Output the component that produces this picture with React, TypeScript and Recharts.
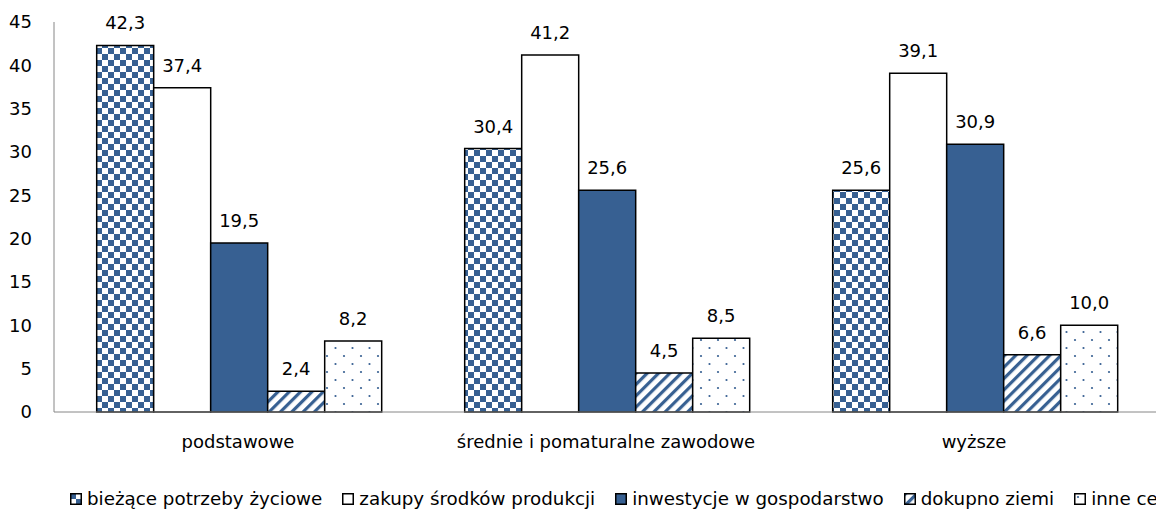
import { BarChart, Bar, XAxis, YAxis, LabelList } from 'recharts';

const categories = ['podstawowe', 'średnie i pomaturalne zawodowe', 'wyższe'];
const seriesNames = [
  'bieżące potrzeby życiowe',
  'zakupy środków produkcji',
  'inwestycje w gospodarstwo',
  'dokupno ziemi',
  'inne cele',
];
const biezace = [42.3, 30.4, 25.6];
const zakupy = [37.4, 41.2, 39.1];
const inwestycje = [19.5, 25.6, 30.9];
const dokupno = [2.4, 4.5, 6.6];
const inne = [8.2, 8.5, 10.0];
const yTicks = [0, 5, 10, 15, 20, 25, 30, 35, 40, 45];

const keys = ['s0', 's1', 's2', 's3', 's4'];
const fills = ['url(#checker)', '#ffffff', '#376092', 'url(#hatch)', 'url(#dots)'];

const data = categories.map((name, i) => ({
  name,
  s0: biezace[i],
  s1: zakupy[i],
  s2: inwestycje[i],
  s3: dokupno[i],
  s4: inne[i],
}));

const fmt = (v: any) => Number(v).toFixed(1).replace('.', ',');
const BLUE = '#376092';
const FONT = '"DejaVu Sans", Verdana, sans-serif';
const FS = 18;

function Patterns() {
  return (
    <defs>
      <pattern id="checker" width="12" height="12" patternUnits="userSpaceOnUse">
        <rect width="12" height="12" fill="#fff" />
        <rect x="0" y="0" width="6" height="6" fill={BLUE} />
        <rect x="6" y="6" width="6" height="6" fill={BLUE} />
      </pattern>
      <pattern id="hatch" width="8" height="8" patternUnits="userSpaceOnUse" patternTransform="rotate(45)">
        <rect width="8" height="8" fill="#fff" />
        <rect x="0" y="0" width="3.2" height="8" fill={BLUE} />
      </pattern>
      <pattern id="dots" width="17" height="16" patternUnits="userSpaceOnUse">
        <rect width="17" height="16" fill="#fff" />
        <circle cx="4" cy="4" r="1.1" fill={BLUE} />
        <circle cx="12.5" cy="12" r="1.1" fill={BLUE} />
      </pattern>
    </defs>
  );
}

export default function App() {
  return (
    <div
      style={{
        position: 'absolute',
        left: 0,
        top: 0,
        width: 1156,
        height: 513,
        overflow: 'hidden',
        background: '#fff',
        fontFamily: FONT,
      }}
    >
      <BarChart
        width={1158}
        height={513}
        data={data}
        margin={{ top: 22, right: 0, left: 0, bottom: 61 }}
        barCategoryGap="11.6%"
        barGap={0}
      >
        <Patterns />
        <XAxis
          dataKey="name"
          height={40}
          tickLine={false}
          axisLine={{ stroke: '#868686', strokeWidth: 1 }}
          tick={{ fill: '#000', fontSize: FS, fontFamily: FONT }}
          tickMargin={17}
          interval={0}
        />
        <YAxis
          width={54}
          domain={[0, 45]}
          ticks={yTicks}
          tickLine={false}
          axisLine={{ stroke: '#868686', strokeWidth: 1 }}
          tick={{ fill: '#000', fontSize: FS, fontFamily: FONT }}
          tickMargin={16}
        />
        {keys.map((k, i) => (
          <Bar
            key={k}
            dataKey={k}
            name={seriesNames[i]}
            fill={fills[i]}
            stroke="#000"
            strokeWidth={1.5}
            isAnimationActive={false}
          >
            <LabelList
              dataKey={k}
              position="top"
              offset={16}
              formatter={fmt}
              style={{ fill: '#000', fontSize: FS, fontFamily: FONT }}
            />
          </Bar>
        ))}
      </BarChart>
      <div
        style={{
          position: 'absolute',
          left: 70,
          top: 488,
          display: 'flex',
          alignItems: 'center',
          whiteSpace: 'nowrap',
          fontSize: 18.3,
          color: '#000',
        }}
      >
        {seriesNames.map((n, i) => (
          <div key={n} style={{ display: 'flex', alignItems: 'center', marginRight: 20 }}>
            <svg width={12} height={12} style={{ marginRight: 5 }}>
              <rect x={0.75} y={0.75} width={10.5} height={10.5} fill={fills[i]} stroke="#000" strokeWidth={1.5} />
            </svg>
            <span>{n}</span>
          </div>
        ))}
      </div>
    </div>
  );
}
